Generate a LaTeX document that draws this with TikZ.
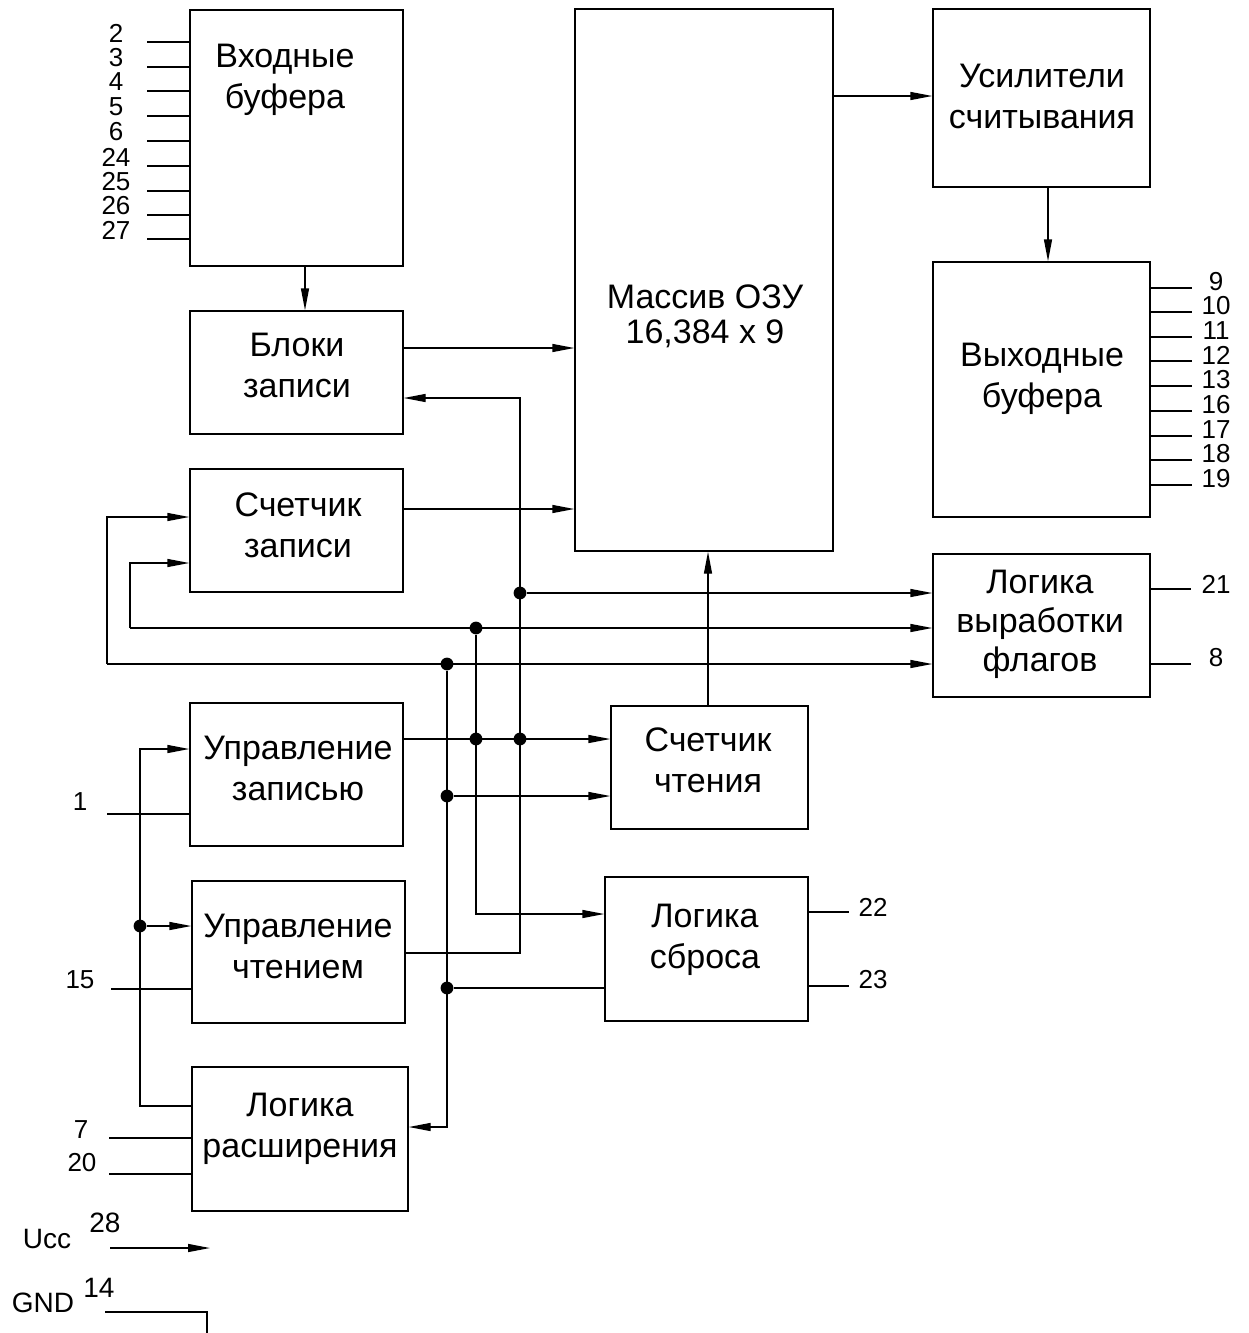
\documentclass[tikz,border=0pt]{standalone}
\usepackage{fontspec}
\setmainfont{Liberation Sans}
\usetikzlibrary{arrows.meta,fit}
\begin{document}
\begin{tikzpicture}[x=0.5pt,y=-0.5pt,line width=0.7pt,
  box/.style={draw, inner sep=0pt, fit={#1}},
  txt/.style={font=\fontsize{17}{20.5}\selectfont, align=center, inner sep=0pt},
  num/.style={font=\fontsize{13}{13}\selectfont, inner sep=0pt},
  pwr/.style={font=\fontsize{14}{14}\selectfont, inner sep=0pt},
  arr/.style={-{Triangle[length=11pt,width=4pt]}},
  jdot/.style={fill, circle, minimum size=6.4pt, inner sep=0pt}]
\useasboundingbox (0,0) rectangle (1248,1333);

% boxes
\node[box={(190,10)(403,266)}] (ib) {};
\node[box={(190,311)(403,434)}] (wb) {};
\node[box={(190,469)(403,592)}] (wc) {};
\node[box={(575,9)(833,551)}] (ram) {};
\node[box={(933,9)(1150,187)}] (sa) {};
\node[box={(933,262)(1150,517)}] (ob) {};
\node[box={(933,554)(1150,697)}] (fl) {};
\node[box={(190,703)(403,846)}] (wctl) {};
\node[box={(611,706)(808,829)}] (rc) {};
\node[box={(605,877)(808,1021)}] (rl) {};
\node[box={(192,881)(405,1023)}] (rctl) {};
\node[box={(192,1067)(408,1211)}] (el) {};

% texts
\node[txt] (ibt) at (285,80) {Входные\\буфера};
\node[txt] (wbt) at (297,365) {Блоки\\записи};
\node[txt] (wct) at (298,525) {Счетчик\\записи};
\node[txt] (ramt) at (705,316) {Массив ОЗУ\\[-3pt]16,384 x 9};
\node[txt] (sat) at (1042,96) {Усилители\\считывания};
\node[txt] (obt) at (1042,379) {Выходные\\буфера};
\node[txt] (flt) at (1040,624) {Логика\\[-1pt]выработки\\[-1pt]флагов};
\node[txt] (wctlt) at (298,768) {Управление\\записью};
\node[txt] (rct) at (708,760) {Счетчик\\чтения};
\node[txt] (rlt) at (705,940) {Логика\\сброса};
\node[txt] (rctlt) at (298,946) {Управление\\чтением};
\node[txt] (elt) at (300,1129) {Логика\\расширения};

% junctions / corners
\coordinate (cA) at (520,398);
\coordinate (c2) at (130,628);
\coordinate (c3) at (107,664);
\coordinate (c4) at (140,749);
\node[jdot] (j1) at (520,593) {};
\node[jdot] (j2) at (476,628) {};
\node[jdot] (j3) at (447,664) {};
\node[jdot] (j4) at (476,739) {};
\node[jdot] (j5) at (520,739) {};
\node[jdot] (j6) at (447,796) {};
\node[jdot] (j7) at (140,926) {};
\node[jdot] (j8) at (447,988) {};

% connectors
\draw[arr] (ib.south -| 305,0) -- (wb.north -| 305,0);
\draw[arr] (wb.east |- 0,348) -- (ram.west |- 0,348);
\draw[arr] (wc.east |- 0,509) -- (ram.west |- 0,509);
\draw[arr] (ram.east |- 0,96) -- (sa.west |- 0,96);
\draw[arr] (sa.south -| 1048,0) -- (ob.north -| 1048,0);
\draw[arr] (rctl.east |- 0,953) -| (cA) -- (wb.east |- cA);
\draw[arr] (j1) -- (fl.west |- j1);
\draw[arr] (c2) -- (fl.west |- c2);
\draw[arr] (c2) |- (wc.west |- 0,563);
\draw[arr] (c3) -- (fl.west |- c3);
\draw[arr] (c3) |- (wc.west |- 0,517);
\draw[arr] (rc.north -| 708,0) -- (ram.south -| 708,0);
\draw[arr] (wctl.east |- 0,739) -- (rc.west |- 0,739);
\draw[arr] (j3) |- (el.east |- 0,1127);
\draw[arr] (j6) -- (rc.west |- j6);
\draw (rl.west |- j8) -- (j8);
\draw[arr] (j2) |- (rl.west |- 0,914);
\draw[arr] (el.west |- 0,1106) -| (c4) -- (wctl.west |- c4);
\draw[arr] (j7) -- (rctl.west |- j7);

% pins of input buffers
\foreach \y/\t in {42/2,67/3,91/4,116/5,141/6,166/24,191/25,215/26,239/27}{
  \draw (ib.west |- 0,\y) -- ++(-42,0);
  \node[num] at (116,\y-9) {\t};
}
% pins of output buffers
\foreach \y/\t in {288/9,312/10,337/11,361/12,386/13,411/16,436/17,460/18,485/19}{
  \draw (ob.east |- 0,\y) -- ++(41,0);
  \node[num] at (1216,\y-6) {\t};
}
% flag pins
\draw (fl.east |- 0,589) -- ++(40,0);
\node[num] (p21) at (1216,584) {21};
\draw (fl.east |- 0,664) -- ++(40,0);
\node[num] (p8) at (1216,658) {8};
% reset pins
\draw (rl.east |- 0,912) -- ++(40,0);
\node[num] (p22) at (873,907) {22};
\draw (rl.east |- 0,986) -- ++(40,0);
\node[num] (p23) at (873,980) {23};
% control pins
\draw (wctl.west |- 0,814) -- ++(-82,0);
\node[num] (p1) at (80,802) {1};
\draw (rctl.west |- 0,989) -- ++(-80,0);
\node[num] (p15) at (80,980) {15};
\draw (el.west |- 0,1138) -- ++(-82,0);
\node[num] (p7) at (81,1130) {7};
\draw (el.west |- 0,1174) -- ++(-82,0);
\node[num] (p20) at (82,1163) {20};

% power
\coordinate (u1) at (110,1248);
\coordinate (u2) at (210,1248);
\draw[arr] (u1) -- (u2);
\node[pwr] (ucc) at (47,1239) {Ucc};
\node[pwr] (p28) at (105,1223) {28};
\coordinate (g1) at (105,1312);
\coordinate (g2) at (207,1312);
\coordinate (g3) at (207,1333);
\draw (g1) -- (g2) -- (g3);
\node[pwr] (gnd) at (43,1303) {GND};
\node[pwr] (p14) at (99,1288) {14};
\end{tikzpicture}
\end{document}
